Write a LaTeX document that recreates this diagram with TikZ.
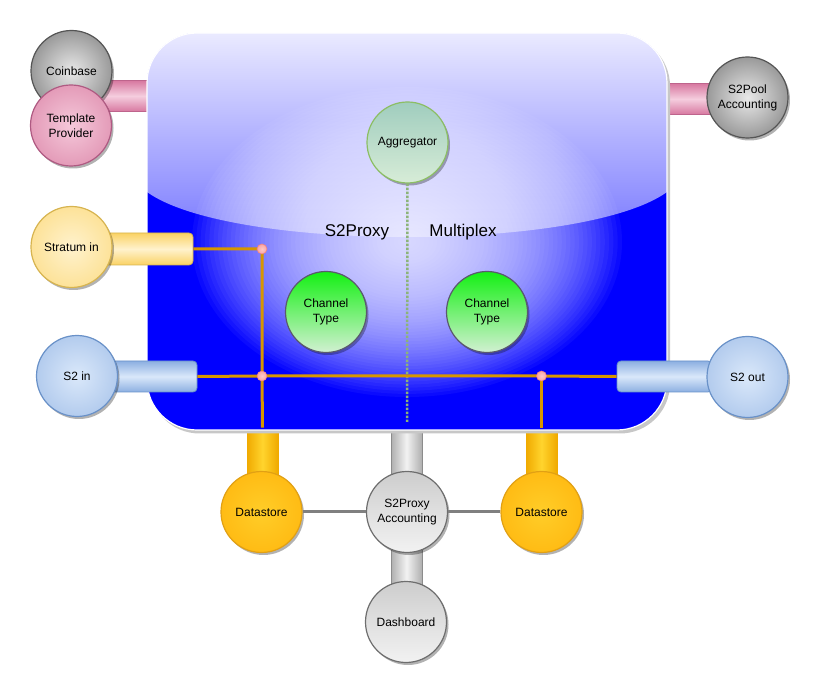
\documentclass[tikz,border=0pt]{standalone}
\usepackage{fontspec}
\setmainfont{Liberation Sans}
\usetikzlibrary{shadows}
\pgfdeclareradialshading[rbin,rbout]{rball}{\pgfpoint{0bp}{0bp}}{color(0bp)=(rbin); color(50bp)=(rbout); color(72bp)=(rbout)}
\definecolor{cbIn}{RGB}{232,232,232}\definecolor{cbOut}{RGB}{75,75,75}\definecolor{cbBd}{RGB}{85,85,85}
\definecolor{tpIn}{RGB}{245,200,218}\definecolor{tpOut}{RGB}{210,110,150}\definecolor{tpBd}{RGB}{175,90,130}
\definecolor{stIn}{RGB}{255,242,205}\definecolor{stOut}{RGB}{250,210,100}\definecolor{stBd}{RGB}{215,180,80}
\definecolor{s2In}{RGB}{218,232,250}\definecolor{s2Out}{RGB}{140,175,225}\definecolor{s2Bd}{RGB}{105,145,200}
\definecolor{dsIn}{RGB}{255,205,40}\definecolor{dsOut}{RGB}{255,170,0}\definecolor{dsBd}{RGB}{225,160,20}
\definecolor{agTop}{RGB}{160,205,190}\definecolor{agBot}{RGB}{215,236,215}\definecolor{agBd}{RGB}{140,190,100}
\definecolor{chTop}{RGB}{20,240,20}\definecolor{chBot}{RGB}{210,240,210}\definecolor{chBd}{RGB}{90,90,110}
\definecolor{grTop}{RGB}{205,205,205}\definecolor{grBot}{RGB}{242,242,242}\definecolor{grBd}{RGB}{110,110,110}
\definecolor{pkEdge}{RGB}{215,120,160}\definecolor{pkMid}{RGB}{245,205,222}\definecolor{pkBd}{RGB}{190,100,140}
\definecolor{obEdge}{RGB}{240,170,0}\definecolor{obMid}{RGB}{255,212,45}
\definecolor{gbEdge}{RGB}{175,175,175}\definecolor{gbMid}{RGB}{242,242,242}\definecolor{gbBd}{RGB}{140,140,140}
\definecolor{upTop}{RGB}{234,234,255}\definecolor{upBot}{RGB}{115,115,255}
\definecolor{wire}{RGB}{215,150,0}
\definecolor{dotc}{RGB}{140,180,120}
\definecolor{jIn}{RGB}{255,200,200}\definecolor{jOut}{RGB}{240,130,130}
\definecolor{connGray}{RGB}{128,128,128}
\begin{document}
\begin{tikzpicture}[x=1pt,y=-1pt,
  lbl/.style={font=\fontsize{12}{15}\selectfont, align=center, text=black},
  ball/.style={circle, minimum size=81pt, inner sep=0pt, lbl, line width=1.2pt,
    drop shadow={shadow xshift=2pt,shadow yshift=-2.5pt,opacity=.3,fill=black}},
  rball/.style n args={3}{ball, draw=#3, /utils/exec={\colorlet{rbin}{#1}\colorlet{rbout}{#2}}, shade, shading=rball},
  vball/.style n args={3}{ball, draw=#3, top color=#1, bottom color=#2},
  hbar/.style n args={3}{rectangle, inner sep=0pt, draw=#3, line width=0.8pt, top color=#1, bottom color=#1, middle color=#2},
  vbar/.style n args={3}{rectangle, inner sep=0pt, draw=#3, line width=0.8pt, left color=#1, right color=#1, middle color=#2},
  oline/.style={draw=wire, line width=3pt},
  junc/.style={circle, minimum size=10pt, inner sep=0pt, draw=jOut, line width=0.6pt, /utils/exec={\colorlet{rbin}{jIn}\colorlet{rbout}{jOut}}, shade, shading=rball},
  big/.style={font=\fontsize{17}{20}\selectfont, text=black}
]
\useasboundingbox (0,0) rectangle (820,692);

% bars behind the box
\node[hbar={pkEdge}{pkMid}{pkBd}, minimum width=56pt, minimum height=31pt] (pkl) at (121,96) {};
\node[hbar={pkEdge}{pkMid}{pkBd}, minimum width=50pt, minimum height=31pt] (pkr) at (690,99) {};
\node[vbar={obEdge}{obMid}{obEdge}, minimum width=31pt, minimum height=54pt] (ob1) at (262.5,455) {};
\node[vbar={obEdge}{obMid}{obEdge}, minimum width=31pt, minimum height=54pt] (ob2) at (541.5,455) {};
\node[vbar={gbEdge}{gbMid}{gbBd}, minimum width=31pt, minimum height=54pt] (gb1) at (406.5,455) {};
\node[vbar={gbEdge}{gbMid}{gbBd}, minimum width=31pt, minimum height=44pt] (gb2) at (406.5,567) {};

% the main box
\fill[black!22, rounded corners=50] (149.5,36) rectangle (670,433.5);
\begin{scope}
  \clip[rounded corners=50] (147,33) rectangle (667,430);
  \fill[blue] (147,33) rectangle (667,430);
  \shade[top color=upTop, bottom color=upBot] (147,33) -- (667,33) -- (667,192)
     .. controls (584,252) and (230,252) .. (147,192) -- cycle;
  \foreach \i in {1,...,50}
    \fill[white, opacity=0.042] (407,242) ellipse ({215*\i/50} and {155*\i/50});
\end{scope}
\draw[white, line width=1.2pt, rounded corners=50] (147,33) rectangle (667,430);

\node[big] (t1) at (357,232) {S2Proxy};
\node[big] (t2) at (463,232) {Multiplex};

% bars over the box
\node[hbar={stOut}{stIn}{stBd}, rounded corners=4pt, minimum width=93pt, minimum height=32pt] (stbar) at (146.5,249) {};
\node[hbar={s2Out}{s2In}{s2Bd}, rounded corners=4pt, minimum width=97pt, minimum height=31pt] (s2ibar) at (148.5,376.5) {};
\node[hbar={s2Out}{s2In}{s2Bd}, rounded corners=4pt, minimum width=95pt, minimum height=31pt] (s2obar) at (664.5,376.5) {};

% junctions
\coordinate (jc1) at (262,249);
\coordinate (jc2) at (262,376);
\coordinate (jc3) at (541.5,376);
\coordinate (dotend) at (407,422);

% circles
\node[rball={cbIn}{cbOut}{cbBd}] (cb) at (71.5,71) {Coinbase};
\node[rball={tpIn}{tpOut}{tpBd}] (tp) at (71,125.5) {Template\\Provider};
\node[rball={cbIn}{cbOut}{cbBd}] (pool) at (747.5,97.5) {S2Pool\\Accounting};
\node[rball={stIn}{stOut}{stBd}] (st) at (71.5,247) {Stratum in};
\node[rball={s2In}{s2Out}{s2Bd}] (s2i) at (77,376) {S2 in};
\node[rball={s2In}{s2Out}{s2Bd}] (s2o) at (747.5,377) {S2 out};
\node[vball={agTop}{agBot}{agBd}] (agg) at (407.5,142.5) {Aggregator};
\node[vball={chTop}{chBot}{chBd}] (ch1) at (326,312) {Channel\\Type};
\node[vball={chTop}{chBot}{chBd}] (ch2) at (487,312) {Channel\\Type};

% wires
\draw[dotc, line width=2.5pt, dash pattern=on 2.5pt off 1.5pt] (agg.south) -- (dotend);
\draw[oline] (stbar.east) -- (jc1) -- (jc2) -- (ob1.north);
\draw[oline] (s2ibar.east) -- (jc2) -- (jc3) -- (s2obar.west);
\draw[oline] (jc3) -- (ob2.north);
\node[junc] (j1) at (jc1) {};
\node[junc] (j2) at (jc2) {};
\node[junc] (j3) at (jc3) {};

% bottom part
\node[rball={dsIn}{dsOut}{dsBd}] (ds1) at (261.5,512) {Datastore};
\node[rball={dsIn}{dsOut}{dsBd}] (ds2) at (541.5,512) {Datastore};
\node[vball={grTop}{grBot}{grBd}] (acc) at (407,512) {S2Proxy\\Accounting};
\node[vball={grTop}{grBot}{grBd}] (dash) at (406,622) {Dashboard};
\draw[connGray, line width=3pt] (ds1) -- (acc);
\draw[connGray, line width=3pt] (acc) -- (ds2);
\end{tikzpicture}
\end{document}
